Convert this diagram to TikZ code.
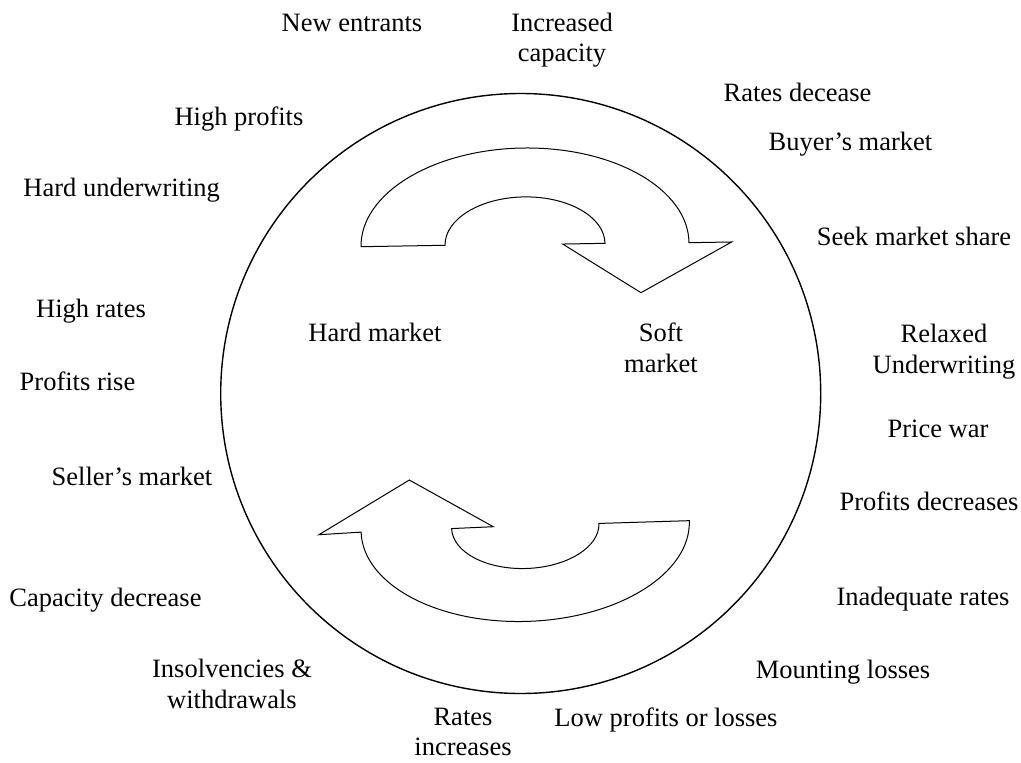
\documentclass[tikz,border=0pt]{standalone}
\usepackage{fontspec}
\setmainfont{Liberation Serif}

\begin{document}
\begin{tikzpicture}[x=.5pt,y=.5pt]
        \useasboundingbox (0,0) rectangle (1021,762);

        % the cycle
        \draw[line width=.7pt] (520.7,368.5) circle [radius=300];

        % upper arrow: hard -> soft
        \begin{scope}[line width=.5pt, shift={(525,517.3)}, rotate=.7]
          \draw (-164,0) arc [start angle=180, end angle=0, x radius=164, y radius=96.7]
                -- (206.7,.2) -- (115.4,-49.4) -- (37.7,.2) -- (80,.4)
                arc [start angle=0, end angle=180, x radius=80, y radius=47.4] -- cycle;
        \end{scope}

        % lower arrow: soft -> hard
        \begin{scope}[line width=.5pt, shift={(525.2,235.3)}, rotate=2]
          \draw (164.2,.3) arc [start angle=0, end angle=-180, x radius=164.2, y radius=95]
                -- (-206.4,-.8) -- (-114.2,50.7) -- (-31.9,1.1) -- (-73.6,.7)
                arc [start angle=180, end angle=360, x radius=73.7, y radius=42.5] -- cycle;
        \end{scope}

        % labels (base = last line)
        \begin{scope}[every node/.style={inner sep=0, anchor=base, align=center,
                      font=\fontsize{13.25pt}{15.3pt}\selectfont}]
          \node (hard)       at (375,420.3)   {Hard market};
          \node (soft)       at (661,389.6)   {Soft\\market};

          \node (entrants)   at (352,730.3)   {New entrants};
          \node (capacity)   at (562,700.3)   {Increased\\capacity};
          \node (ratesdec)   at (797.5,660.3) {Rates decease};
          \node (buyers)     at (850.5,611.3) {Buyer’s market};
          \node (share)      at (914,516.3)   {Seek market share};
          \node (relaxed)    at (944,388.6)   {Relaxed\\Underwriting};
          \node (pricewar)   at (938,324.3)   {Price war};
          \node (profdec)    at (929,252)     {Profits decreases};
          \node (inadequate) at (923,157)     {Inadequate rates};
          \node (mounting)   at (843,84)      {Mounting losses};
          \node (lowprof)    at (666,36)      {Low profits or losses};
          \node (ratesinc)   at (463,6.3)     {Rates\\increases};
          \node (insolv)     at (232,53.5)    {Insolvencies \&\\withdrawals};
          \node (capdec)     at (105.5,156)   {Capacity decrease};
          \node (sellers)    at (132,277)     {Seller’s market};
          \node (profrise)   at (77.5,372)    {Profits rise};
          \node (highrates)  at (91,444.7)    {High rates};
          \node (hardunder)  at (121.7,565.3) {Hard underwriting};
          \node (highprof)   at (239,636)     {High profits};
        \end{scope}

      \end{tikzpicture}
\end{document}
